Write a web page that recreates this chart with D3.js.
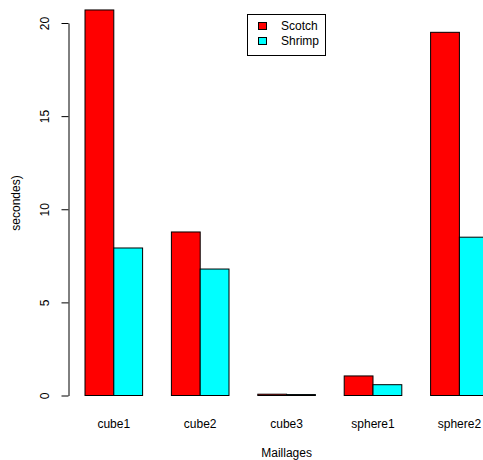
<!DOCTYPE html>
<html>
<head>
<meta charset="utf-8">
<script src="https://cdn.jsdelivr.net/npm/d3@7"></script>
<style>
html, body { margin: 0; padding: 0; background: #fff; }
svg { display: block; }
text { font-family: "Liberation Sans", Arial, Helvetica, sans-serif; font-size: 12px; fill: #000; }
</style>
</head>
<body>
<script>
const categories = ["cube1", "cube2", "cube3", "sphere1", "sphere2"];
const seriesNames = ["Scotch", "Shrimp"];
const scotch = [20.7, 8.78, 0.07, 1.05, 19.5];
const shrimp = [7.92, 6.79, 0.05, 0.58, 8.5];
const yTicks = [0, 5, 10, 15, 20];
const colors = ["#FF0000", "#00FFFF"];
const xLabel = "Maillages";
const yLabelLines = ["Temps d'exécution (en", "secondes)"];

const W = 483, H = 460;
const svg = d3.select("body").append("svg").attr("width", W).attr("height", H);

// barplot geometry: bar width 1 unit, group space 1 unit
const x = d3.scaleLinear().domain([1, 2]).range([85, 113.8]);
const y = d3.scaleLinear().domain([0, 20]).range([395.5, 23]);

const series = [scotch, shrimp];
const bars = [];
categories.forEach((c, i) => {
  series.forEach((s, j) => {
    bars.push({ cat: c, j: j, v: s[i], u: 1 + 3 * i + j });
  });
});

svg.append("g").selectAll("rect").data(bars).join("rect")
  .attr("x", d => x(d.u))
  .attr("width", d => x(d.u + 1) - x(d.u))
  .attr("y", d => y(d.v))
  .attr("height", d => y(0) - y(d.v))
  .attr("fill", d => colors[d.j])
  .attr("stroke", "#000")
  .attr("stroke-width", 1);

// y axis
const yAxis = d3.axisLeft(y).tickValues(yTicks).tickSize(7).tickSizeOuter(0).tickFormat(d3.format("d"));
const gy = svg.append("g").attr("transform", "translate(68.5,0)").call(yAxis);
gy.select(".domain").attr("stroke", "#000");
gy.selectAll(".tick line").attr("stroke", "#000");
gy.selectAll(".tick text")
  .attr("x", null).attr("dy", null)
  .attr("transform", "translate(-20,0) rotate(-90)")
  .attr("text-anchor", "middle")
  .attr("y", 0)
  .style("font-family", "Liberation Sans, Arial, sans-serif")
  .style("font-size", "12px")
  .attr("fill", "#000");

// x category labels
svg.append("g").selectAll("text").data(categories).join("text")
  .attr("x", (d, i) => x(2 + 3 * i))
  .attr("y", 428)
  .attr("text-anchor", "middle")
  .text(d => d);

// x title
svg.append("text")
  .attr("x", (x(0.44) + x(15.56)) / 2)
  .attr("y", 457)
  .attr("text-anchor", "middle")
  .text(xLabel);

// y title (two lines, first mostly clipped)
const yMid = 203;
svg.append("text")
  .attr("transform", `translate(-4,${yMid}) rotate(-90)`)
  .attr("text-anchor", "middle")
  .text(yLabelLines[0]);
svg.append("text")
  .attr("transform", `translate(19.5,${yMid}) rotate(-90)`)
  .attr("text-anchor", "middle")
  .text(yLabelLines[1]);

// legend
const lg = svg.append("g");
lg.append("rect")
  .attr("x", 247.5).attr("y", 14.5)
  .attr("width", 78).attr("height", 41)
  .attr("fill", "#fff").attr("stroke", "#000");
seriesNames.forEach((n, j) => {
  const cy = 26 + j * 15;
  lg.append("rect")
    .attr("x", 258.5).attr("y", cy - 3.5)
    .attr("width", 8).attr("height", 7)
    .attr("fill", colors[j]).attr("stroke", "#000");
  lg.append("text")
    .attr("x", 281).attr("y", cy + 4.2)
    .text(n);
});
</script>
</body>
</html>
